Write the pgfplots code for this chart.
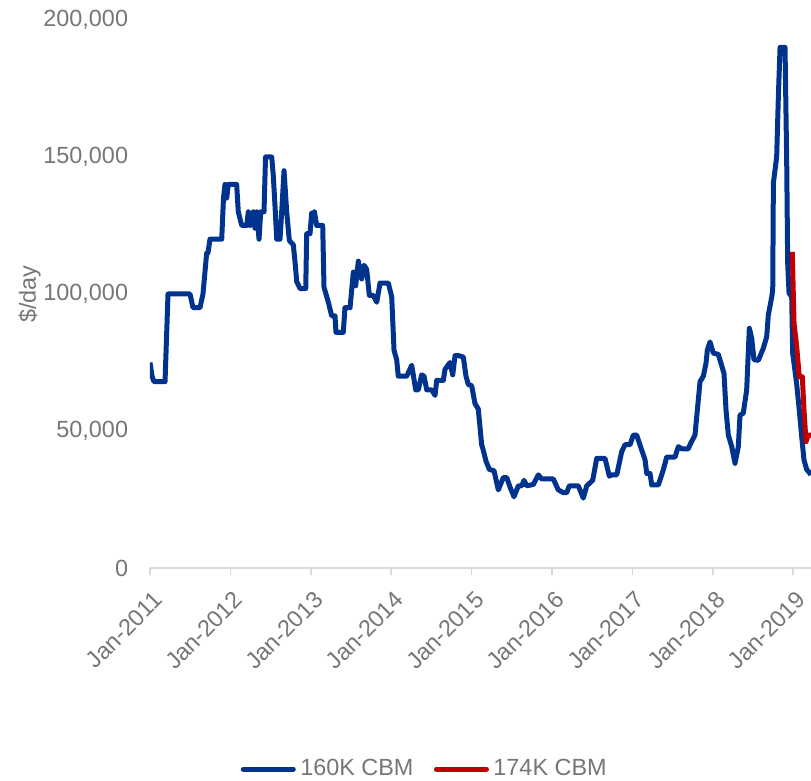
\documentclass[border=0pt]{standalone}
\usepackage{pgfplots}
\pgfplotsset{compat=1.18}
\usepackage{fontspec}
\setmainfont{Liberation Sans}
\definecolor{bl}{RGB}{0,51,141}
\definecolor{rd}{RGB}{192,0,0}
\definecolor{tg}{RGB}{118,118,118}
\definecolor{axc}{RGB}{217,217,217}
\newcommand{\tfont}{\fontsize{23.5}{28}\selectfont}
\begin{document}
\tfont
\begin{tikzpicture}
\begin{axis}[
  at={(0,0)}, anchor=south west,
  scale only axis, width=661bp, height=548bp,
  xmin=2011, xmax=2019.221, ymin=0, ymax=200000,
  axis lines*=left,
  y axis line style={draw=none},
  x axis line style={draw=axc, line width=1.5bp},
  ytick={0,50000,100000,150000,200000},
  yticklabels={0,{50,000},{100,000},{150,000},{200,000}},
  ytick style={draw=none},
  scaled y ticks=false,
  yticklabel style={text=tg, font=\tfont, xshift=-7bp},
  xtick={2011,2012,2013,2014,2015,2016,2017,2018,2019},
  xticklabels={Jan-2011,Jan-2012,Jan-2013,Jan-2014,Jan-2015,Jan-2016,Jan-2017,Jan-2018,Jan-2019},
  xtick style={draw=axc, line width=1.5bp},
  tick align=outside, major tick length=7bp,
  xticklabel style={text=tg, font=\tfont, rotate=45, anchor=north east, inner sep=2bp, xshift=-7bp, yshift=-10bp},
  ylabel={\$/day},
  ylabel style={text=tg, font=\tfont, at={(axis description cs:-0.182,0.5)}, anchor=center},
  legend columns=2,
  legend style={draw=none, fill=none, font=\tfont, text=tg, at={(axis description cs:0.4175,-0.367)}, anchor=center,
    /tikz/every even column/.append style={column sep=16bp}, inner sep=0pt,
    nodes={inner xsep=4.5bp}},
  legend image code/.code={\draw[line width=5bp, line cap=round] (0bp,0bp) -- (50bp,0bp);},
]
\addplot[bl, line width=5bp, line join=round] coordinates {
(2011.000,75000) (2011.025,70000) (2011.050,68000) (2011.187,68000) (2011.224,100000)
(2011.498,100000) (2011.535,95000) (2011.622,95000) (2011.659,100000) (2011.705,115000)
(2011.721,115000) (2011.746,120000) (2011.892,120000) (2011.914,135000) (2011.933,140000)
(2011.954,135000) (2011.974,140000) (2012.078,140000) (2012.098,130000) (2012.141,125000)
(2012.203,125000) (2012.223,130000) (2012.244,125000) (2012.285,130000) (2012.306,124000)
(2012.327,130000) (2012.356,120000) (2012.377,130000) (2012.418,130000) (2012.437,150000)
(2012.514,150000) (2012.534,143000) (2012.555,132000) (2012.576,120000) (2012.617,120000)
(2012.638,130000) (2012.667,145000) (2012.700,130000) (2012.733,119500) (2012.782,118000)
(2012.803,112000) (2012.825,104500) (2012.866,102000) (2012.937,102000) (2012.949,122000)
(2012.990,122000) (2013.011,129500) (2013.027,127000) (2013.045,130000) (2013.073,125000)
(2013.148,125000) (2013.164,102500) (2013.218,97000) (2013.260,92000) (2013.301,92000)
(2013.313,86000) (2013.404,86000) (2013.425,95000) (2013.488,95000) (2013.529,108000)
(2013.558,103000) (2013.591,112000) (2013.633,105500) (2013.662,110500) (2013.695,109000)
(2013.728,99500) (2013.777,99500) (2013.820,97000) (2013.861,104000) (2013.964,104000)
(2014.006,99000) (2014.035,79500) (2014.068,76000) (2014.088,70000) (2014.193,70000)
(2014.255,74000) (2014.305,65000) (2014.337,65000) (2014.379,70500) (2014.408,70000)
(2014.442,65000) (2014.504,65000) (2014.545,63000) (2014.566,68500) (2014.648,68500)
(2014.669,72500) (2014.731,75000) (2014.765,70500) (2014.794,77500) (2014.835,77500)
(2014.897,77000) (2014.930,70000) (2014.959,67000) (2015.001,66500) (2015.042,60000)
(2015.083,58000) (2015.125,45000) (2015.145,43000) (2015.179,39000) (2015.220,36000)
(2015.279,35500) (2015.332,28500) (2015.394,33000) (2015.437,33000) (2015.478,29500)
(2015.527,26000) (2015.581,30000) (2015.623,30000) (2015.652,32000) (2015.685,30000)
(2015.768,30500) (2015.830,34000) (2015.872,32500) (2016.016,32500) (2016.078,28500)
(2016.141,27500) (2016.183,27500) (2016.215,30000) (2016.327,30000) (2016.389,25500)
(2016.432,30000) (2016.506,32000) (2016.556,40000) (2016.659,40000) (2016.713,33500)
(2016.743,34000) (2016.805,34000) (2016.867,42500) (2016.908,45000) (2016.970,45000)
(2017.011,48500) (2017.053,48500) (2017.116,43000) (2017.157,39500) (2017.178,34500)
(2017.219,34500) (2017.240,30300) (2017.322,30300) (2017.384,35800) (2017.426,40500)
(2017.530,40500) (2017.571,44300) (2017.613,43500) (2017.695,43500) (2017.716,45000)
(2017.778,48500) (2017.841,68000) (2017.882,70000) (2017.915,74700) (2017.932,79600)
(2017.965,82500) (2018.006,78400) (2018.068,78000) (2018.139,71000) (2018.164,57700)
(2018.193,48500) (2018.235,44300) (2018.276,38200) (2018.317,44300) (2018.338,55800)
(2018.379,56500) (2018.421,65000) (2018.454,87500) (2018.483,84000) (2018.512,76000)
(2018.566,75800) (2018.628,80200) (2018.670,84400) (2018.690,92300) (2018.733,99000)
(2018.745,101500) (2018.753,140400) (2018.794,150000) (2018.815,172000) (2018.836,190000)
(2018.898,190000) (2018.919,147700) (2018.931,111200) (2018.948,100300) (2018.981,99000)
(2018.993,78400) (2019.042,67400) (2019.075,57700) (2019.105,48000) (2019.134,39400)
(2019.167,36000) (2019.209,34500) (2019.221,34000)
};
\addlegendentry{160K CBM}
\addplot[rd, line width=5bp, line join=round] coordinates {
(2018.988,115400) (2019.010,89300) (2019.043,80800) (2019.075,69800) (2019.113,69800)
(2019.134,57700) (2019.159,46100) (2019.187,48500) (2019.221,48500)
};
\addlegendentry{174K CBM}
\end{axis}
\pgfresetboundingbox
\path[use as bounding box] (-150bp,-213bp) rectangle (661bp,568bp);
\end{tikzpicture}
\end{document}
